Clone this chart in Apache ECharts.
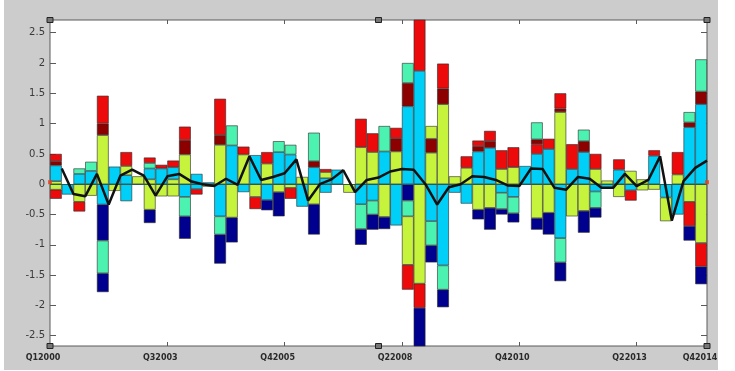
<!DOCTYPE html>
<html>
<head>
<meta charset="utf-8">
<script src="https://cdn.jsdelivr.net/npm/echarts@6/dist/echarts.min.js"></script>
<style>
  html, body { margin: 0; padding: 0; background: #ffffff; }
  #chart { width: 735px; height: 371px; }
</style>
</head>
<body>
<div id="chart"></div>
<script>
// ---- data -------------------------------------------------------------
// 56 quarterly periods; bar k occupies the interval [k, k+1] on the quarter scale
const periods = Array.from({ length: 56 }, (_, i) => i + 1);

const tickLabels = ['Q12000', 'Q32003', 'Q42005', 'Q22008', 'Q42010', 'Q22013', 'Q42014'];
const tickPositions = [0, 10, 20, 30, 40, 50, 56];
const yTicks = [-2.5, -2, -1.5, -1, -0.5, 0, 0.5, 1, 1.5, 2, 2.5];

// positive contributions, stacked upward from zero in this order
const posLime = [0.05,0,0,0,0.81,0,0,0.13,0.08,0, 0.08,0.49,0,0,0.65,0,0.49,0,0.34,0,
  0,0.12,0,0,0,0,0.61,0.53,0,0.54, 0,0,0.52,1.32,0.13,0.27,0,0,0.25,0.28,
  0,0,0,1.19,0,0,0.25,0.06,0,0.22, 0.08,0,0,0.16,0,0];
const posCyan = [0.26,0,0.17,0.22,0,0.29,0.15,0,0.18,0.26, 0.2,0,0.17,0.03,0,0.64,0,0.48,0,0.53,
  0.49,0,0.28,0.1,0.24,0,0,0,0.54,0, 1.285,1.87,0,0,0,0,0.54,0.6,0,0,
  0.3,0.5,0.58,0,0.25,0.53,0,0,0.24,0, 0,0.47,0,0,0.94,1.32];
const posLimeMid = { 6: 0.15, 23: 0.1 };
const posAquaMid = { 8: 0.09 };
const posRedLow = { 41: 0.16 };
const posDarkRed = [0.07,0,0,0,0.19,0,0,0,0,0, 0,0.24,0,0,0.16,0,0,0,0,0,
  0,0,0.1,0,0,0,0,0,0,0.22, 0.385,0,0.23,0.26,0,0,0.09,0.11,0,0,
  0,0.08,0,0.06,0,0.18,0,0,0,0, 0,0,0,0,0.08,0.21];
const posLimeTop = { 32: 0.21 };
const posRed = [0.12,0,0,0,0.46,0,0.23,0,0.09,0.06, 0.11,0.22,0,0,0.6,0,0.13,0,0.19,0,
  0,0,0,0.05,0,0,0.47,0.31,0,0.17, 0,0.9,0,0.41,0,0.19,0.09,0.17,0.31,0.33,
  0,0,0.17,0.25,0.41,0,0.25,0,0.17,0, 0,0.09,0,0.37,0,0];
const posAqua = [0,0,0.09,0.15,0,0,0,0,0,0, 0,0,0,0,0,0.33,0,0,0,0.18,
  0.16,0,0.47,0,0,0,0,0,0.42,0, 0.33,0,0,0,0,0,0,0,0,0,
  0,0.28,0,0,0,0.19,0,0,0,0, 0,0,0,0,0.17,0.53];

// negative contributions, stacked downward from zero in this order
const negNavyTop = { 30: -0.27 };
const negCyan = [0,-0.17,0,0,-0.335,0,-0.28,0,0,0, 0,-0.21,-0.08,0,-0.53,0,-0.13,0,-0.26,0,
  0,-0.37,0,-0.14,0,0,-0.33,-0.27,0,-0.68, 0,0,-0.61,-1.34,-0.14,-0.32,0,0,-0.14,-0.21,
  0,0,0,-0.89,0,0,-0.12,-0.06,0,-0.1, 0,0,-0.22,-0.5,0,0];
const negAqua = [0,0,0,0,0,0,0,0,0,0, 0,-0.32,0,0,-0.3,0,0,0,0,0,
  0,0,0,0,0,0,-0.41,-0.23,0,0, -0.26,0,-0.4,-0.4,0,0,0,0,-0.27,-0.27,
  0,0,0,-0.4,0,0,-0.27,0,0,0, 0,0,0,0,0,0];
const negLime = [-0.09,0,-0.29,-0.19,0,-0.11,0,0,-0.42,-0.2, -0.2,0,0,-0.04,0,-0.55,0,-0.21,0,-0.13,
  -0.06,0,-0.33,0,0,-0.14,0,0,-0.54,0, -0.8,-1.64,0,0,0,0,-0.42,-0.39,0,0,
  0,-0.56,-0.47,0,-0.53,-0.44,0,0,-0.21,0, -0.1,-0.09,-0.39,0,-0.29,-0.97];
const negRed = [-0.15,0,-0.16,0,0,0,0,0,0,0, 0,0,-0.09,0,0,0,0,-0.2,0,0,
  -0.18,0,0,0,0,0,0,0,0,0, -0.41,-0.4,0,0,0,0,0,0,0,0,
  0,0,0,0,0,0,0,0,0,-0.17, 0,0,0,0,-0.4,-0.39];
const negNavy = [0,0,0,0,-0.595,0,0,0,-0.22,0, 0,-0.37,0,0,-0.48,-0.41,0,0,-0.17,-0.4,
  0,0,-0.5,0,0,0,-0.26,-0.25,-0.2,0, 0,-0.75,-0.28,-0.29,0,0,-0.16,-0.36,-0.09,-0.15,
  0,-0.19,-0.36,-0.31,0,-0.36,-0.16,0,0,0, 0,0,0,0,-0.24,-0.29];
const negAquaLow = { 4: -0.54 };
const negNavyLow = { 4: -0.31 };

// total, plotted at the right edge of each bar
const lineValues = [0.26,-0.16,-0.2,0.17,-0.335,0.14,0.24,0.14,-0.19,0.13,
  0.17,0.05,0,-0.03,0.09,-0.01,0.46,0.07,0.12,0.18,
  0.41,-0.27,0,0.08,0.23,-0.13,0.07,0.11,0.21,0.25,
  0.24,0,-0.335,-0.05,0,0.13,0.12,0.07,-0.02,-0.03,
  0.26,0.25,-0.06,-0.09,0.12,0.09,-0.06,-0.06,0.17,-0.03,
  0.07,0.46,-0.6,0.05,0.27,0.39];

// zero markers at both ends of the quarter scale
const edgeMarks = [[0, 0], [56, 0]];

// ---- styling ----------------------------------------------------------
const palette = {
  navy: '#00008f', cyan: '#00cff7', aqua: '#4cf2b0',
  lime: '#c6f43c', red: '#ec0a0a', darkred: '#8c0000'
};
const frameColor = '#5a5a5a';

function expand(sparse) {
  return periods.map((_, i) => (sparse[i] !== undefined ? sparse[i] : 0));
}

const layers = [
  ['lime', posLime], ['cyan', posCyan], ['lime', expand(posLimeMid)],
  ['aqua', expand(posAquaMid)], ['red', expand(posRedLow)], ['darkred', posDarkRed],
  ['lime', expand(posLimeTop)], ['red', posRed], ['aqua', posAqua],
  ['navy', expand(negNavyTop)], ['cyan', negCyan], ['aqua', negAqua],
  ['lime', negLime], ['red', negRed], ['navy', negNavy],
  ['aqua', expand(negAquaLow)], ['navy', expand(negNavyLow)]
];

const barSeries = layers.map(([colorName, values], k) => {
  const s = {
    type: 'bar',
    stack: 'contrib',
    xAxisIndex: 0,
    yAxisIndex: 0,
    barWidth: '100%',
    silent: true,
    data: values.map(v => (v === 0 ? null : v)),
    itemStyle: { color: palette[colorName], borderColor: '#2a2a2a', borderWidth: 0.6 }
  };
  if (k === layers.length - 1) {
    s.markLine = {
      silent: true, symbol: 'none', label: { show: false },
      lineStyle: { color: '#2d5a50', width: 1, type: 'solid' },
      data: [{ yAxis: 0 }]
    };
  }
  return s;
});

const W = 735, H = 371;
const G = { left: 50, right: 28, top: 20, bottom: 25 };
const plotRight = W - G.right, plotBottom = H - G.bottom;
const midX = (G.left + plotRight) / 2;
const handlePts = [
  [G.left, G.top], [midX, G.top], [plotRight, G.top],
  [G.left, plotBottom], [midX, plotBottom], [plotRight, plotBottom]
];

const innerTicks = tickPositions.filter(v => v > tickPositions[0] && v < tickPositions[tickPositions.length - 1]);
const yMin = -2.67, yMax = 2.71;

const chart = echarts.init(document.getElementById('chart'), null, { renderer: 'canvas', width: W, height: H });

chart.setOption({
  animation: false,
  backgroundColor: '#ffffff',
  graphic: [
    { type: 'rect', z: -100, silent: true, shape: { x: 4, y: 0, width: 714, height: 370 }, style: { fill: '#cccccc' } }
  ].concat(handlePts.map(([x, y]) => ({
    type: 'rect', z: 100, silent: true,
    shape: { x: x - 3, y: y - 2.5, width: 6, height: 5 },
    style: { fill: '#777777', stroke: '#222222', lineWidth: 1 }
  }))),
  grid: {
    left: G.left, right: G.right, top: G.top, bottom: G.bottom,
    show: true, backgroundColor: '#ffffff', borderColor: frameColor, borderWidth: 1
  },
  xAxis: [
    { type: 'category', data: periods, show: false, boundaryGap: true },
    {
      type: 'value', min: 0, max: 56, position: 'bottom',
      axisLine: { show: false, onZero: false },
      splitLine: { show: false },
      axisTick: { show: true, inside: true, length: 4, customValues: innerTicks, lineStyle: { color: frameColor, width: 1 } },
      axisLabel: {
        customValues: tickPositions,
        formatter: v => tickLabels[tickPositions.indexOf(v)] || '',
        fontFamily: 'DejaVu Sans', fontWeight: 'bold', fontSize: 8, color: '#2a2a2a',
        margin: 8, padding: [0, 14, 0, 0]
      }
    },
    {
      type: 'value', min: 0, max: 56, position: 'top',
      axisLine: { show: false, onZero: false },
      splitLine: { show: false },
      axisTick: { show: true, inside: true, length: 4, customValues: innerTicks, lineStyle: { color: frameColor, width: 1 } },
      axisLabel: { show: false }
    }
  ],
  yAxis: [
    {
      type: 'value', min: yMin, max: yMax, position: 'left',
      axisLine: { show: false, onZero: false },
      splitLine: { show: false },
      axisTick: { show: true, inside: true, length: 6, customValues: yTicks, lineStyle: { color: frameColor, width: 1 } },
      axisLabel: {
        customValues: yTicks,
        formatter: v => String(v),
        fontFamily: 'DejaVu Sans', fontSize: 10, color: '#3a3a3a', margin: 5
      }
    },
    {
      type: 'value', min: yMin, max: yMax, position: 'right',
      axisLine: { show: false, onZero: false },
      splitLine: { show: false },
      axisTick: { show: true, inside: true, length: 6, customValues: yTicks, lineStyle: { color: frameColor, width: 1 } },
      axisLabel: { show: false }
    }
  ],
  series: barSeries.concat([
    {
      type: 'line', xAxisIndex: 1, yAxisIndex: 0, z: 5, silent: true,
      symbol: 'none',
      data: lineValues.map((v, i) => [periods[i], v]),
      lineStyle: { color: '#111111', width: 2.5 }
    },
    {
      type: 'scatter', xAxisIndex: 1, yAxisIndex: 0, z: 6, silent: true,
      symbol: 'rect', symbolSize: 4, symbolOffset: [0, -2],
      data: edgeMarks,
      itemStyle: { color: '#e8401c' }
    }
  ])
});
</script>
</body>
</html>
